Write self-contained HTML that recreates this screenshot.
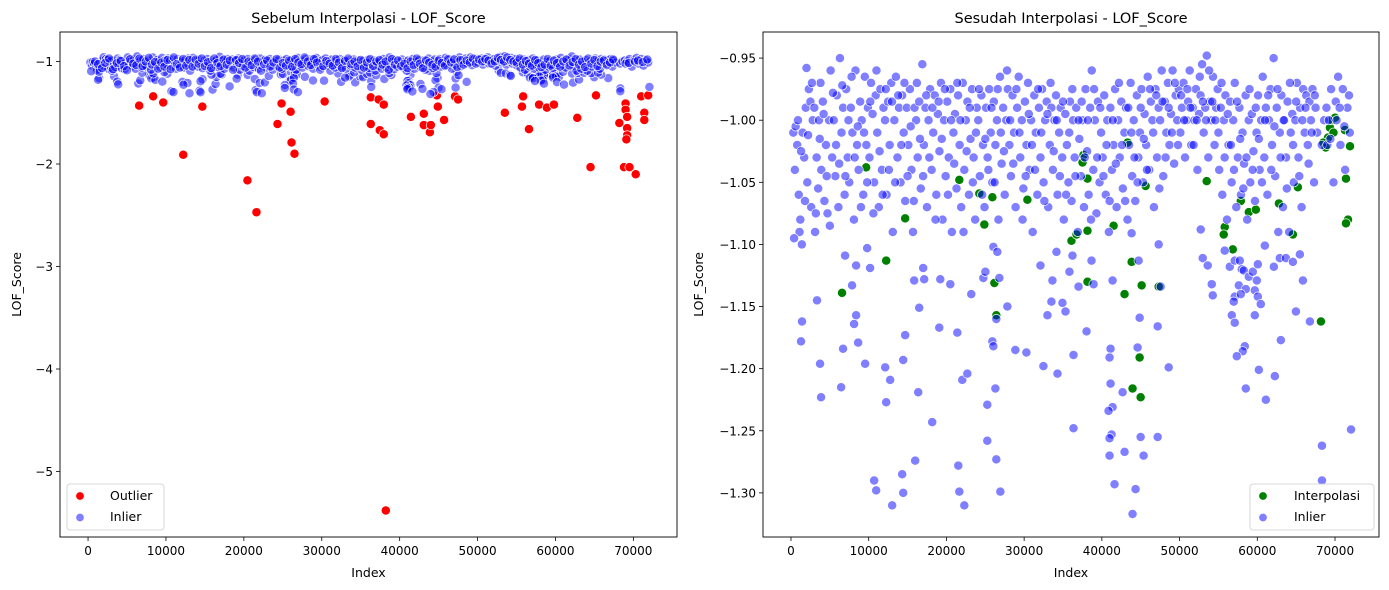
<!DOCTYPE html>
<html><head><meta charset="utf-8"><style>
body{margin:0;background:#fff;}
svg{display:block;font-family:"DejaVu Sans","Liberation Sans",sans-serif;}
</style></head><body>
<svg id="chart" width="1389" height="590" viewBox="0 0 1389 590" xmlns="http://www.w3.org/2000/svg"></svg>
<script>
const xTicks=[0,10000,20000,30000,40000,50000,60000,70000];
const leftYTicks=[-1,-2,-3,-4,-5];
const rightYTicks=[-0.95,-1.00,-1.05,-1.10,-1.15,-1.20,-1.25,-1.30];
const rightYLabels=["−0.95","−1.00","−1.05","−1.10","−1.15","−1.20","−1.25","−1.30"];
// outliers: [index (thousands), LOF score]
const outlierPoints=[[6.56,-1.43],[8.36,-1.34],[9.65,-1.40],[12.22,-1.91],[14.67,-1.44],[20.46,-2.16],[21.62,-2.47],[24.32,-1.61],[24.84,-1.41],[26.0,-1.49],[26.12,-1.79],[26.5,-1.90],[30.37,-1.39],[36.29,-1.35],[36.29,-1.61],[37.3,-1.37],[37.45,-1.67],[37.96,-1.42],[37.96,-1.71],[38.22,-5.38],[41.44,-1.54],[43.1,-1.51],[43.1,-1.62],[43.88,-1.69],[44.0,-1.62],[44.78,-1.33],[44.9,-1.44],[45.7,-1.57],[47.1,-1.34],[47.5,-1.37],[53.5,-1.50],[55.7,-1.44],[55.85,-1.34],[56.6,-1.66],[57.9,-1.42],[58.9,-1.45],[59.8,-1.42],[62.8,-1.55],[64.5,-2.03],[65.2,-1.33],[68.2,-1.60],[69.0,-1.41],[69.0,-1.47],[69.2,-1.54],[69.2,-1.65],[69.2,-1.72],[69.1,-1.76],[68.8,-2.03],[69.5,-2.03],[70.3,-2.10],[71.0,-1.34],[71.4,-1.50],[71.4,-1.57],[71.9,-1.33]];
// interpolated values: [index (thousands), LOF score]
const interpPoints=[[9.67,-1.038],[14.69,-1.079],[12.25,-1.113],[6.57,-1.139],[21.66,-1.048],[24.23,-1.059],[25.91,-1.062],[24.88,-1.084],[26.17,-1.131],[26.42,-1.157],[30.42,-1.064],[36.09,-1.097],[37.64,-1.028],[37.51,-1.034],[38.15,-1.047],[38.15,-1.089],[36.74,-1.092],[41.51,-1.085],[43.83,-1.114],[45.12,-1.133],[42.92,-1.140],[38.15,-1.130],[47.31,-1.134],[44.86,-1.191],[43.95,-1.216],[44.99,-1.223],[45.63,-1.053],[43.31,-1.018],[53.49,-1.049],[57.88,-1.065],[58.91,-1.074],[59.81,-1.072],[55.81,-1.086],[55.68,-1.092],[56.85,-1.104],[62.78,-1.067],[65.22,-1.054],[64.58,-1.092],[68.19,-1.162],[71.93,-1.021],[71.41,-1.047],[71.28,-1.008],[69.35,-1.006],[69.09,-1.014],[71.67,-1.080],[71.41,-1.083],[68.5,-1.018],[69.6,-1.000],[70.0,-0.998],[68.8,-1.022],[69.8,-1.010]];
// inliers: [index (thousands), LOF score]
const inlierPoints=[[3.35,-1.145],[1.42,-1.162],[1.29,-1.178],[3.74,-1.196],[3.87,-1.223],[6.45,-1.215],[6.70,-1.184],[7.86,-1.133],[8.38,-1.157],[8.12,-1.164],[8.64,-1.179],[9.54,-1.196],[6.96,-1.109],[8.38,-1.117],[10.18,-1.119],[9.80,-1.103],[12.12,-1.199],[12.76,-1.209],[12.25,-1.227],[10.70,-1.290],[10.96,-1.298],[13.02,-1.310],[14.31,-1.285],[14.44,-1.300],[15.98,-1.274],[16.37,-1.219],[14.69,-1.173],[14.44,-1.193],[16.50,-1.151],[15.85,-1.129],[17.14,-1.128],[17.01,-1.119],[19.21,-1.128],[20.50,-1.132],[19.08,-1.167],[21.40,-1.171],[18.17,-1.243],[21.53,-1.278],[21.66,-1.299],[22.30,-1.310],[22.04,-1.209],[22.69,-1.204],[23.20,-1.140],[24.75,-1.127],[25.01,-1.122],[26.04,-1.102],[26.55,-1.106],[26.81,-1.127],[27.84,-1.150],[25.91,-1.178],[26.04,-1.182],[26.42,-1.160],[26.30,-1.216],[25.26,-1.229],[25.26,-1.258],[26.42,-1.273],[26.94,-1.299],[28.87,-1.185],[30.29,-1.187],[32.10,-1.117],[33.64,-1.129],[32.48,-1.198],[34.29,-1.204],[33.51,-1.146],[33.00,-1.157],[34.93,-1.147],[35.32,-1.154],[34.16,-1.106],[35.83,-1.122],[36.35,-1.189],[36.35,-1.248],[36.22,-1.109],[37.00,-1.134],[38.03,-1.170],[41.38,-1.129],[38.93,-1.132],[38.67,-1.113],[44.86,-1.159],[47.18,-1.166],[44.60,-1.183],[41.12,-1.184],[40.99,-1.191],[48.60,-1.199],[41.12,-1.212],[42.67,-1.219],[41.38,-1.231],[40.86,-1.234],[41.25,-1.253],[40.99,-1.256],[44.99,-1.255],[47.18,-1.255],[40.99,-1.270],[42.92,-1.267],[45.37,-1.270],[41.63,-1.293],[44.34,-1.297],[43.95,-1.317],[47.31,-1.100],[43.83,-1.091],[44.73,-1.113],[47.56,-1.134],[52.72,-1.088],[52.98,-1.111],[53.62,-1.117],[54.14,-1.132],[54.27,-1.141],[55.81,-1.105],[56.46,-1.118],[57.10,-1.113],[57.75,-1.113],[58.00,-1.120],[58.26,-1.121],[58.91,-1.126],[59.42,-1.122],[59.94,-1.129],[60.07,-1.116],[57.62,-1.133],[58.52,-1.136],[57.10,-1.142],[56.97,-1.146],[57.88,-1.140],[59.68,-1.137],[60.07,-1.142],[60.45,-1.148],[56.72,-1.157],[57.10,-1.163],[59.68,-1.157],[58.39,-1.182],[58.13,-1.186],[57.36,-1.190],[60.20,-1.201],[58.52,-1.216],[62.26,-1.206],[61.10,-1.225],[63.03,-1.177],[64.97,-1.154],[66.77,-1.162],[65.87,-1.129],[62.13,-1.118],[62.90,-1.111],[63.68,-1.111],[64.58,-1.114],[65.48,-1.108],[60.97,-1.101],[68.32,-1.262],[68.32,-1.290],[72.06,-1.249],
[0.3,-1.01],[0.5,-1.04],[0.6,-1.005],[0.8,-1.02],[1.0,-1.06],[1.1,-1.09],[1.2,-1.08],[1.4,-1.1],[1.5,-1.01],[1.7,-1.03],[1.9,-0.99],[2.0,-0.958],[2.1,-1.05],[2.3,-0.975],[2.5,-0.985],[2.6,-1.07],[2.8,-1.0],[3.0,-0.99],[3.1,-1.09],[3.3,-1.03],[3.5,-1.055],[3.6,-1.0],[3.8,-0.97],[3.9,-1.04],[4.1,-0.985],[4.3,-1.065],[4.5,-1.02],[4.7,-1.075],[4.9,-1.0],
[5.1,-0.96],[5.3,-1.03],[5.5,-1.0],[5.7,-1.045],[5.9,-0.98],[6.1,-1.07],[6.3,-0.95],[6.5,-1.01],[6.7,-0.99],[6.9,-1.06],[7.1,-0.975],[7.3,-1.03],[7.5,-1.05],[7.7,-0.99],[7.9,-1.01],[8.1,-1.08],[8.3,-0.96],[8.5,-1.02],[8.7,-1.04],[8.9,-0.985],[9.1,-1.0],[9.3,-1.06],[9.5,-0.965],[9.7,-1.02],[9.9,-0.99],
[10.1,-1.03],[10.3,-0.97],[10.5,-0.995],[10.7,-1.05],[10.9,-0.98],[11.1,-1.01],[11.3,-1.07],[11.5,-0.975],[11.7,-1.04],[11.9,-0.99],[12.1,-1.0],[12.3,-1.06],[12.5,-0.985],[12.7,-1.02],[12.9,-0.97],[13.1,-1.09],[13.3,-1.0],[13.5,-0.965],[13.7,-1.03],[13.9,-0.99],[14.1,-1.05],[14.3,-0.98],[14.5,-1.01],[14.7,-1.065],[14.9,-0.99],
[15.1,-1.02],[15.3,-0.975],[15.5,-1.04],[15.7,-1.09],[15.9,-0.99],[16.1,-1.0],[16.3,-1.03],[16.5,-0.985],[16.7,-1.055],[16.9,-0.955],[17.1,-1.02],[17.3,-0.99],[17.5,-1.07],[17.7,-1.0],[17.9,-0.975],[18.1,-1.04],[18.3,-1.01],[18.5,-0.98],[18.7,-1.06],[18.9,-0.995],[19.1,-1.025],[19.3,-0.97],[19.5,-1.08],[19.7,-1.0],[19.9,-1.045],
[20.1,-0.985],[20.3,-1.03],[20.5,-0.975],[20.7,-1.09],[20.9,-1.01],[21.1,-0.995],[21.3,-1.055],[21.5,-0.98],[21.7,-1.02],[21.9,-1.07],[22.1,-0.97],[22.3,-1.04],[22.5,-1.0],[22.7,-0.985],[22.9,-1.06],[23.1,-1.015],[23.3,-0.975],[23.5,-1.03],[23.7,-1.08],[23.9,-0.99],[24.1,-1.0],[24.3,-1.045],[24.5,-0.98],[24.7,-1.02],[24.9,-1.07],
[25.1,-0.99],[25.3,-1.03],[25.5,-0.975],[25.7,-1.01],[25.9,-1.05],[26.1,-0.985],[26.3,-1.02],[26.5,-1.0],[26.7,-1.08],[26.9,-0.965],[27.1,-1.035],[27.3,-0.99],[27.5,-1.06],[27.7,-1.0],[27.9,-0.975],[28.1,-1.02],[28.3,-1.045],[28.5,-0.98],[28.7,-1.01],[28.9,-1.07],[29.1,-0.99],[29.3,-0.965],[29.5,-1.03],[29.7,-1.0],[29.9,-1.055],
[30.1,-0.985],[30.3,-1.02],[30.5,-0.97],[30.7,-1.04],[30.9,-1.0],[31.1,-1.09],[31.3,-0.98],[31.5,-1.01],[31.7,-1.06],[31.9,-0.99],[32.1,-1.03],[32.3,-0.975],[32.5,-1.05],[32.7,-1.0],[32.9,-0.985],[33.1,-1.07],[33.3,-1.02],[33.5,-0.99],[33.7,-1.04],[33.9,-1.0],[34.1,-0.98],[34.3,-1.06],[34.5,-1.01],[34.7,-0.99],[34.9,-1.03],
[35.1,-1.08],[35.3,-0.995],[35.5,-1.02],[35.7,-1.05],[35.9,-0.985],[36.1,-1.065],[36.3,-1.0],[36.5,-1.03],[36.7,-0.99],[36.9,-1.09],[37.1,-1.015],[37.3,-1.045],[37.5,-1.0],[37.7,-1.07],[37.9,-0.975],[38.1,-1.025],[38.3,-1.06],[38.5,-0.99],[38.7,-0.96],[38.9,-1.04],[39.1,-1.0],[39.3,-1.075],[39.5,-0.985],[39.7,-1.05],[39.9,-1.01],
[40.1,-1.03],[40.3,-0.98],[40.5,-1.06],[40.7,-1.0],[40.9,-1.09],[41.1,-0.99],[41.3,-1.04],[41.5,-1.02],[41.7,-0.975],[41.9,-1.07],[42.1,-1.0],[42.3,-1.03],[42.5,-0.985],[42.7,-1.055],[42.9,-1.01],[43.1,-0.99],[43.3,-1.08],[43.5,-1.02],[43.7,-0.97],[43.9,-1.045],[44.1,-1.0],[44.3,-1.065],[44.5,-0.98],[44.7,-1.03],[44.9,-1.01],
[45.1,-0.975],[45.3,-1.05],[45.5,-0.995],[45.7,-1.02],[45.9,-0.965],[46.1,-1.04],[46.3,-0.985],[46.5,-1.0],[46.7,-1.07],[46.9,-0.975],[47.1,-1.03],[47.3,-0.99],[47.5,-1.0],[47.7,-0.96],[47.9,-1.045],[48.1,-0.985],[48.3,-1.01],[48.5,-0.97],[48.7,-1.02],[48.9,-0.995],[49.1,-0.96],[49.3,-1.035],[49.5,-0.98],[49.7,-1.0],[49.9,-0.975],
[50.1,-1.01],[50.3,-0.99],[50.5,-0.97],[50.7,-1.03],[50.9,-1.0],[51.1,-0.985],[51.3,-0.96],[51.5,-1.02],[51.7,-0.99],[51.9,-1.0],[52.1,-0.975],[52.3,-1.04],[52.5,-0.995],[52.7,-0.98],[52.9,-0.955],[53.1,-1.01],[53.3,-0.99],[53.5,-0.948],[53.7,-1.03],[53.9,-0.985],[54.1,-1.0],[54.3,-0.965],[54.5,-1.02],[54.7,-0.99],[54.9,-0.975],
[55.1,-1.04],[55.3,-0.99],[55.5,-1.06],[55.7,-1.0],[55.9,-0.98],[56.1,-1.08],[56.3,-1.02],[56.5,-0.985],[56.7,-1.05],[56.9,-1.0],[57.1,-0.97],[57.3,-1.07],[57.5,-1.03],[57.7,-0.99],[57.9,-1.06],[58.1,-1.01],[58.3,-1.035],[58.5,-0.98],[58.7,-1.08],[58.9,-1.0],[59.1,-1.05],[59.3,-0.995],[59.5,-1.025],[59.7,-1.065],[59.9,-1.01],
[60.1,-0.98],[60.3,-1.04],[60.5,-1.0],[60.7,-0.965],[60.9,-1.03],[61.1,-0.99],[61.3,-1.06],[61.5,-1.0],[61.7,-0.975],[61.9,-1.02],[62.1,-0.95],[62.3,-1.045],[62.5,-0.99],[62.7,-1.09],[62.9,-1.01],[63.1,-0.98],[63.3,-1.07],[63.5,-1.0],[63.7,-1.03],[63.9,-0.985],[64.1,-1.09],[64.3,-1.01],[64.5,-0.995],[64.7,-1.05],[64.9,-1.0],
[65.1,-0.97],[65.3,-1.03],[65.5,-0.99],[65.7,-1.07],[65.9,-0.975],[66.1,-1.01],[66.3,-0.98],[66.5,-1.02],[66.7,-0.985],[66.9,-1.0],[67.1,-0.975],[67.3,-1.05],[67.5,-0.99],[67.7,-1.01],[68.3,-1.02],[68.6,-1.0],[68.9,-0.99],[69.2,-1.0],[69.5,-0.975],[69.8,-1.05],[70.1,-0.985],[70.4,-0.965],[70.7,-1.02],[71.0,-0.975],[71.3,-1.04],[71.6,-0.99],[71.9,-1.01],
[0.4,-1.095],[0.9,-1.0],[1.3,-1.025],[1.8,-1.065],[2.2,-1.012],[2.7,-0.97],[3.2,-1.075],[3.7,-1.015],[4.2,-0.995],[4.6,-1.045],[5.0,-1.085],[5.4,-0.978],[5.8,-1.02],[6.2,-1.035],[6.6,-0.972],[7.0,-1.045],[7.4,-1.0],[7.8,-0.965],[8.2,-1.03],[8.6,-1.005],[9.0,-1.07],[9.4,-1.01],[9.8,-1.05],[10.2,-0.985],[10.6,-1.075],[11.0,-0.96],[11.4,-1.025],[11.8,-1.06],[12.2,-0.975],[12.6,-1.04],[13.0,-0.985],[13.4,-1.05],[13.8,-0.98],[14.2,-1.02],[14.6,-0.97],[15.0,-1.045],[15.4,-1.005],[15.8,-1.065],[16.2,-0.97],[16.6,-1.015],[17.0,-1.045],[17.4,-0.98],[17.8,-1.03],[18.2,-0.99],[18.6,-1.08],[19.0,-0.985],[19.4,-1.015],[19.8,-0.975],[20.2,-1.06],[20.6,-1.0],[21.0,-1.035],[21.4,-0.97],[21.8,-1.0],[22.2,-1.09],[22.6,-1.025],[23.0,-0.99],[23.4,-1.05],[23.8,-1.01],[24.2,-0.975],[24.6,-1.06],[25.0,-1.015],[25.4,-1.04],[25.8,-0.99],[26.2,-1.05],[26.6,-0.975],[27.0,-1.01],[27.4,-1.025],[27.8,-0.96],[28.2,-1.0],[28.6,-1.035],[29.0,-0.975],[29.4,-1.01],[29.8,-1.08],[30.2,-1.045],[30.6,-0.995],[31.0,-1.02],[31.4,-1.04],[31.8,-0.975],[32.2,-1.01],[32.6,-1.065],[33.0,-0.995],[33.4,-0.97],[33.8,-1.025],[34.2,-1.0],[34.6,-1.045],[35.0,-0.985],[35.4,-1.06],[35.8,-1.01],[36.2,-0.975],[36.6,-1.045],[37.0,-1.0],[37.4,-0.985],[37.8,-1.03],[38.2,-1.0],[38.6,-1.08],[39.0,-0.975],[39.4,-1.03],[39.8,-0.99],[40.2,-1.045],[40.6,-1.02],[41.0,-1.065],[41.4,-1.0],[41.8,-1.035],[42.2,-0.97],[42.6,-1.02],[43.0,-1.065],[43.4,-0.99],[43.8,-1.01],[44.2,-1.03],[44.6,-1.05],[45.0,-0.99],[45.4,-1.015],[45.8,-1.04],[46.2,-0.975],[46.6,-1.01],[47.0,-0.98],[47.4,-1.055],[47.8,-0.985],[48.2,-1.03],[48.6,-0.99],[49.0,-1.01],[49.4,-0.97],[49.8,-1.02],[50.2,-0.98],[50.6,-1.0],[51.0,-0.975],[51.4,-0.99],[51.8,-1.02],[52.2,-1.0],[52.6,-0.965],[53.0,-0.985],[53.4,-1.0],[53.8,-0.96],[54.2,-0.985],[54.6,-1.0],[55.0,-1.01],[55.4,-0.97],[55.8,-1.03],[56.2,-0.995],[56.6,-1.02],[57.0,-1.04],[57.4,-0.985],[57.8,-1.015],[58.2,-1.055],[58.6,-1.03],[59.0,-0.975],[59.4,-1.04],[59.8,-0.99],[60.2,-1.015],[60.6,-1.05],[61.0,-1.0],[61.4,-0.98],[61.8,-1.04],[62.2,-1.005],[62.6,-0.975],[63.0,-1.03],[63.4,-1.0],[63.8,-1.055],[64.2,-0.97],[64.6,-1.02],[65.0,-0.985],[65.4,-1.045],[65.8,-1.0],[66.2,-0.99],[66.6,-1.035],[67.0,-1.01],[67.4,-0.98],[69.0,-1.02],[69.4,-1.015],[70.2,-1.0],[70.6,-0.99],[71.2,-1.005],[71.8,-0.98]];

const NS="http://www.w3.org/2000/svg";
const svg=document.getElementById('chart');
function mk(tag,attrs,parent){const e=document.createElementNS(NS,tag);for(const k in attrs)e.setAttribute(k,attrs[k]);(parent||svg).appendChild(e);return e;}
function txt(s,attrs,parent){const e=mk('text',attrs,parent);e.textContent=s;return e;}

function panel(cfg){
  const g=mk('g',{});
  
  
  const sx=v=>cfg.x0+(v-cfg.xmin)/(cfg.xmax-cfg.xmin)*(cfg.x1-cfg.x0);
  const sy=v=>cfg.y1-(v-cfg.ymin)/(cfg.ymax-cfg.ymin)*(cfg.y1-cfg.y0);
  const t=txt(cfg.title,{x:(cfg.x0+cfg.x1)/2,y:23,'text-anchor':'middle','font-size':'14.5'},g);
  
  
  xTicks.forEach(v=>{
    const x=sx(v);
    mk('line',{x1:x,x2:x,y1:cfg.y1,y2:cfg.y1+4,stroke:'#000','stroke-width':0.8},g);
    const l=txt(String(v),{x:x,y:cfg.y1+18,'text-anchor':'middle','font-size':'12'},g);
    
    
  });
  cfg.yTicks.forEach((v,i)=>{
    const y=sy(v);
    mk('line',{x1:cfg.x0-4,x2:cfg.x0,y1:y,y2:y,stroke:'#000','stroke-width':0.8},g);
    const l=txt(cfg.yLabels[i],{x:cfg.x0-7,y:y+4.5,'text-anchor':'end','font-size':'12'},g);
    
    
  });
  const xl=txt('Index',{x:(cfg.x0+cfg.x1)/2,y:577,'text-anchor':'middle','font-size':'12.5'},g);
  
  
  const yl=txt('LOF_Score',{x:0,y:0,'text-anchor':'middle','font-size':'12.5',transform:`translate(${cfg.ylx},${(cfg.y0+cfg.y1)/2}) rotate(-90)`},g);
  
  
  const clip=mk('clipPath',{id:cfg.name+'-clip'},g);
  mk('rect',{x:cfg.x0,y:cfg.y0,width:cfg.x1-cfg.x0,height:cfg.y1-cfg.y0},clip);
  const pg=mk('g',{'clip-path':`url(#${cfg.name}-clip)`},g);
  cfg.series.forEach(s=>{
    s.data.forEach(p=>{
      const c=mk('circle',{cx:sx(p[0]*1000),cy:sy(p[1]),r:4.6,fill:s.color,'fill-opacity':s.alpha,stroke:'#fff','stroke-width':0.7},pg);
      
      
    });
  });
  mk('rect',{x:cfg.x0,y:cfg.y0,width:cfg.x1-cfg.x0,height:cfg.y1-cfg.y0,fill:'none',stroke:'#000','stroke-width':0.9},g);
  const lg=mk('g',{},g);
  
  
  mk('rect',{x:cfg.lx,y:484,width:cfg.lw,height:46,rx:3,fill:'#fff','fill-opacity':0.8,stroke:'#ccc','stroke-width':0.8},lg);
  cfg.series.forEach((s,i)=>{
    const y=495+i*21;
    const e=mk('g',{},lg);
    
    
    mk('circle',{cx:cfg.lx+13,cy:y+i*0.5+1,r:4.2,fill:s.color,'fill-opacity':s.alpha,stroke:'#fff','stroke-width':0.6},e);
    txt(s.label,{x:cfg.lx+cfg.ltx,y:y+5,'font-size':'12.5'},e);
  });
}

panel({name:'left-plot',title:'Sebelum Interpolasi - LOF_Score',x0:60,x1:677,y0:32,y1:537,xmin:-3600,xmax:75600,ymin:-5.639,ymax:-0.712,
  yTicks:leftYTicks,yLabels:["−1","−2","−3","−4","−5"],ylx:21,lx:67,lw:97,ltx:43,
  series:[{label:'Outlier',data:outlierPoints,color:'#ff0000',alpha:1,mark:'outlier-point'},{label:'Inlier',data:inlierPoints,color:'#0000ff',alpha:0.5,mark:'inlier-point'}]});
panel({name:'right-plot',title:'Sesudah Interpolasi - LOF_Score',x0:763,x1:1379,y0:32,y1:537,xmin:-3600,xmax:75660,ymin:-1.3355,ymax:-0.929,
  yTicks:rightYTicks,yLabels:rightYLabels,ylx:703,lx:1250,lw:124,ltx:44,
  series:[{label:'Interpolasi',data:interpPoints,color:'#008000',alpha:1,mark:'interpolated-point'},{label:'Inlier',data:inlierPoints,color:'#0000ff',alpha:0.5,mark:'inlier-point'}]});
</script>
</body></html>
